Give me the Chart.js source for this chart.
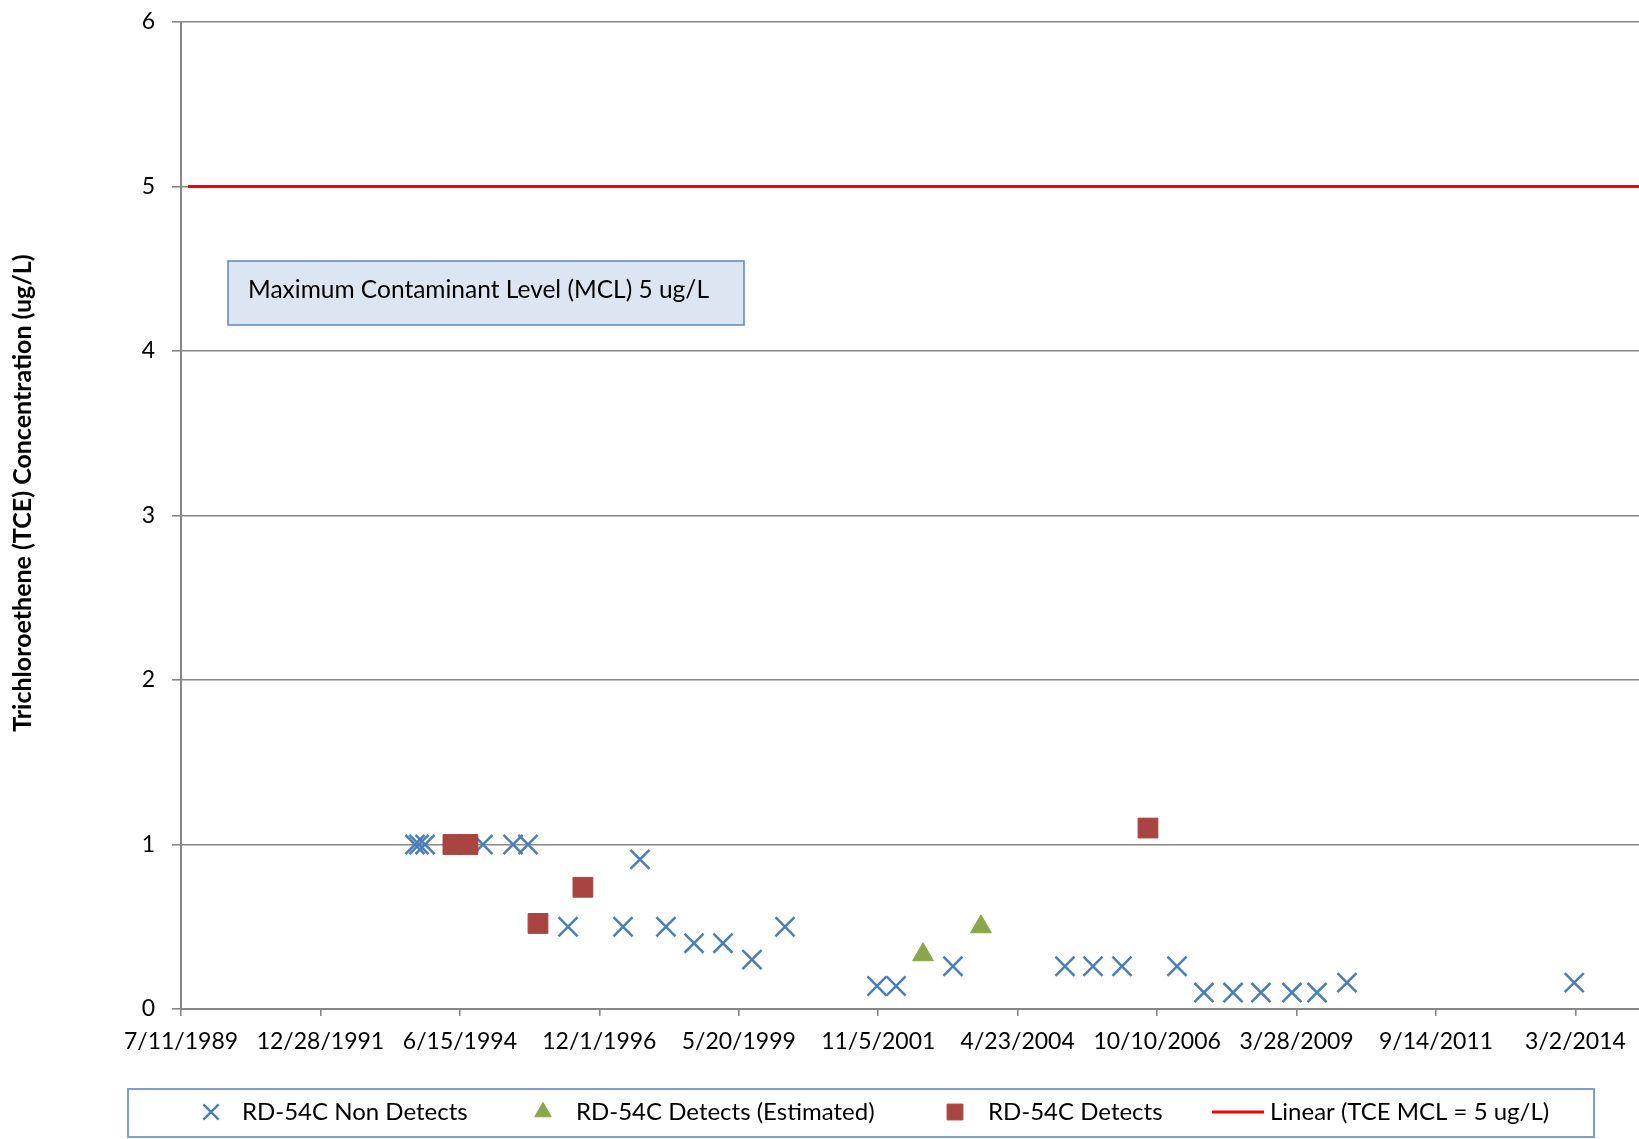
<!DOCTYPE html>
<html>
<head>
<meta charset="utf-8">
<title>RD-54C TCE Concentrations</title>
<script src="https://cdn.jsdelivr.net/npm/chart.js@4.4.1/dist/chart.umd.min.js"></script>
<style>
  html, body { margin: 0; padding: 0; background: #fff; }
  #wrap { width: 1639px; height: 1139px; }
</style>
</head>
<body>
<div id="wrap"><canvas id="tceChart" width="1639" height="1139"></canvas></div>
<script>
// ================= DATA =================
const nonDetectDates = [
    "8/29/1993", "9/24/1993", "11/2/1993", "11/11/1994", "5/24/1995", "8/29/1995",
    "5/13/1996", "5/3/1997", "8/20/1997", "2/4/1998", "8/4/1998", "2/7/1999",
    "8/13/1999", "3/13/2000", "10/28/2001", "2/28/2002", "3/2/2003", "2/22/2005",
    "8/22/2005", "2/25/2006", "2/15/2007", "8/8/2007", "2/12/2008", "8/10/2008",
    "2/26/2009", "8/7/2009", "2/16/2010", "2/22/2014"
];
const nonDetectValues = [
    1, 1, 1, 1, 1, 1,
    0.5, 0.5, 0.91, 0.5, 0.4, 0.4,
    0.3, 0.5, 0.14, 0.14, 0.26, 0.26,
    0.26, 0.26, 0.26, 0.1, 0.1, 0.1,
    0.1, 0.1, 0.16, 0.16
];

const estimatedDates = ["8/21/2002", "8/30/2003"];
const estimatedValues = [0.33, 0.5];

const detectDates = ["5/1/1994", "8/6/1994", "11/1/1995", "8/17/1996", "8/12/2006"];
const detectValues = [1, 1, 0.52, 0.74, 1.1];

const mclDates = ["8/25/1989", "6/1/2015"];
const mclValues = [5, 5];

const xTickLabels = [
    "7/11/1989", "12/28/1991", "6/15/1994", "12/1/1996", "5/20/1999", "11/5/2001",
    "4/23/2004", "10/10/2006", "3/28/2009", "9/14/2011", "3/2/2014"
];
const xAxisRange = ["7/11/1989", "4/16/2015"];
const yTickValues = [0, 1, 2, 3, 4, 5, 6];

const seriesNames = [
    "RD-54C Non Detects",
    "RD-54C Detects (Estimated)",
    "RD-54C Detects",
    "Linear (TCE MCL = 5 ug/L)"
];
const yAxisTitle = "Trichloroethene (TCE) Concentration (ug/L)";
const mclNote = "Maximum Contaminant Level (MCL) 5 ug/L";

// ================= HELPERS =================
// dates become day numbers (same counting as a spreadsheet date axis)
function toSerial(s) {
    const [m, d, y] = s.split("/").map(Number);
    return Date.UTC(y, m - 1, d) / 86400000 + 25569;
}
function toPoints(dates, values) {
    return dates.map((d, i) => ({ x: toSerial(d), y: values[i] }));
}

const FONT = "Lato, 'Open Sans', sans-serif";
const GRID = "#878787";

// ================= PLUGINS =================
const yTitlePlugin = {
    id: "yTitle",
    afterDraw(chart) {
        const ctx = chart.ctx;
        ctx.save();
        ctx.translate(23, 493);
        ctx.rotate(-Math.PI / 2);
        ctx.font = "bold 25px " + FONT;
        ctx.fillStyle = "#000";
        ctx.textAlign = "center";
        ctx.textBaseline = "middle";
        ctx.fillText(yAxisTitle, 0, 0);
        ctx.restore();
    }
};

const notePlugin = {
    id: "mclNote",
    afterDraw(chart) {
        const ctx = chart.ctx;
        ctx.save();
        ctx.fillStyle = "#dce6f2";
        ctx.fillRect(228, 261, 516, 64);
        ctx.strokeStyle = "#5b87c5";
        ctx.lineWidth = 1.5;
        ctx.strokeRect(228, 261, 516, 64);
        ctx.font = "24.5px " + FONT;
        ctx.fillStyle = "#000";
        ctx.textBaseline = "middle";
        ctx.fillText(mclNote, 248, 290);
        ctx.restore();
    }
};

const legendPlugin = {
    id: "boxedLegend",
    afterDraw(chart) {
        const ctx = chart.ctx;
        const ds = chart.data.datasets;
        const y = 1112;
        const slots = [
            { mark: 211, text: 242 },
            { mark: 543, text: 576 },
            { mark: 955, text: 988 },
            { mark: 1238, text: 1270 }
        ];
        ctx.save();
        ctx.strokeStyle = "#7b9fd0";
        ctx.lineWidth = 2;
        ctx.strokeRect(128, 1089, 1466, 48);

        ds.forEach((d, i) => {
            const s = slots[i];
            if (d.showLine) {
                ctx.strokeStyle = d.borderColor;
                ctx.lineWidth = d.borderWidth;
                ctx.beginPath();
                ctx.moveTo(s.mark - 26, y);
                ctx.lineTo(s.mark + 26, y);
                ctx.stroke();
            } else {
                ctx.fillStyle = d.pointBackgroundColor;
                ctx.strokeStyle = d.pointBorderColor;
                ctx.lineWidth = d.pointBorderWidth;
                Chart.helpers.drawPoint(ctx, {
                    pointStyle: d.pointStyle,
                    radius: d.pointRadius * 0.8,
                    rotation: 0,
                    borderWidth: d.pointBorderWidth
                }, s.mark, y);
            }
            ctx.font = "24px " + FONT;
            ctx.fillStyle = "#000";
            ctx.textBaseline = "middle";
            ctx.fillText(d.label, s.text, y);
        });
        ctx.restore();
    }
};

// ================= CHART =================
function buildChart() {
    const ctx = document.getElementById("tceChart").getContext("2d");

    new Chart(ctx, {
        type: "scatter",
        data: {
            datasets: [
                {
                    label: seriesNames[0],
                    data: toPoints(nonDetectDates, nonDetectValues),
                    pointStyle: "crossRot",
                    pointRadius: 13.5,
                    pointBorderWidth: 2.5,
                    pointBorderColor: "#4a7ebb",
                    pointBackgroundColor: "#4a7ebb",
                    showLine: false,
                    order: 4
                },
                {
                    label: seriesNames[1],
                    data: toPoints(estimatedDates, estimatedValues),
                    pointStyle: "triangle",
                    pointRadius: 12,
                    pointBorderWidth: 1,
                    pointBorderColor: "#8aa64b",
                    pointBackgroundColor: "#8aa64b",
                    showLine: false,
                    order: 3
                },
                {
                    label: seriesNames[2],
                    data: toPoints(detectDates, detectValues),
                    pointStyle: "rect",
                    pointRadius: 14,
                    pointBorderWidth: 1,
                    pointBorderColor: "#a84541",
                    pointBackgroundColor: "#a84541",
                    showLine: false,
                    order: 2
                },
                {
                    label: seriesNames[3],
                    data: toPoints(mclDates, mclValues),
                    showLine: true,
                    borderColor: "#ff0000",
                    borderWidth: 3,
                    pointRadius: 0,
                    order: 1
                }
            ]
        },
        options: {
            responsive: false,
            animation: false,
            devicePixelRatio: 1,
            layout: {
                autoPadding: false,
                padding: { top: 22, right: 0, bottom: 0, left: 0 }
            },
            plugins: {
                legend: { display: false },
                tooltip: { enabled: false }
            },
            scales: {
                x: {
                    type: "linear",
                    position: "bottom",
                    min: toSerial(xAxisRange[0]),
                    max: toSerial(xAxisRange[1]),
                    afterBuildTicks: scale => {
                        scale.ticks = xTickLabels.map(l => ({ value: toSerial(l) }));
                    },
                    afterFit: scale => {
                        scale.height = 130;
                        scale.paddingLeft = 0;
                        scale.paddingRight = 0;
                    },
                    grid: {
                        drawOnChartArea: false,
                        drawTicks: true,
                        tickLength: 7,
                        color: GRID,
                        lineWidth: 1.6
                    },
                    border: { display: true, color: GRID, width: 2 },
                    ticks: {
                        autoSkip: false,
                        maxRotation: 0,
                        padding: 12,
                        color: "#000",
                        font: { family: FONT, size: 23 },
                        callback: (v, i) => xTickLabels[i]
                    }
                },
                y: {
                    min: 0,
                    max: 6,
                    afterBuildTicks: scale => {
                        scale.ticks = yTickValues.map(v => ({ value: v }));
                    },
                    afterFit: scale => {
                        scale.width = 181;
                        scale.paddingTop = 0;
                        scale.paddingBottom = 0;
                    },
                    grid: {
                        color: GRID,
                        lineWidth: 1.6,
                        tickLength: 9
                    },
                    border: { display: true, color: GRID, width: 2 },
                    ticks: {
                        padding: 17,
                        color: "#000",
                        font: { family: FONT, size: 23 }
                    }
                }
            }
        },
        plugins: [yTitlePlugin, notePlugin, legendPlugin]
    });
}

document.addEventListener("DOMContentLoaded", function () {
    Promise.all([
        document.fonts.load("23px Lato"),
        document.fonts.load("bold 25px Lato")
    ]).then(buildChart, buildChart);
});
</script>
</body>
</html>
